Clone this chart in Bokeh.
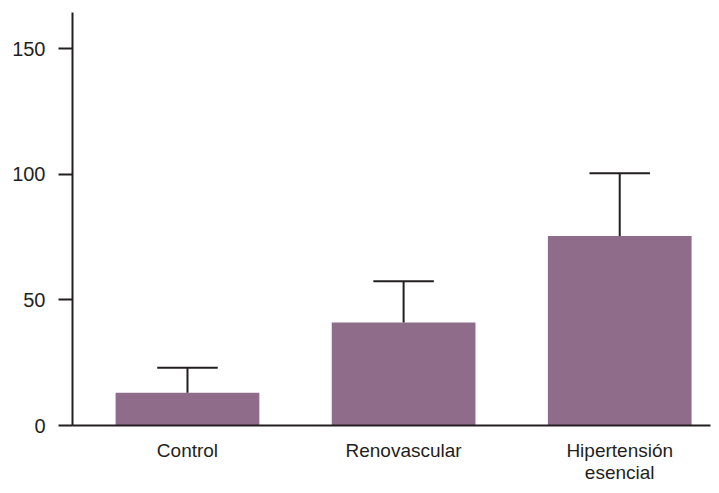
import numpy as np
from bokeh.plotting import figure
from bokeh.models import Range1d, FixedTicker
from bokeh.embed import file_html
from bokeh.resources import INLINE

categories = ["Control", "Renovascular", "Hipertensión\nesencial"]
means = [13, 41, 75.5]
errors = [10, 16.5, 25]
y_ticks = [0, 50, 100, 150]

BAR_COLOR = "#8e6c8a"
INK = "#231f20"
FONT = "Liberation Sans"

x = np.arange(len(categories))
m = np.array(means, dtype=float)
upper = m + np.array(errors, dtype=float)

p = figure(width=711, height=485, output_backend="svg", toolbar_location=None,
           x_range=Range1d(-0.532, 2.42), y_range=Range1d(0, 164.5),
           min_border_left=72, min_border_right=1, min_border_top=12, min_border_bottom=57)
p.outline_line_color = None
p.xgrid.visible = False
p.ygrid.visible = False
p.background_fill_color = "white"
p.border_fill_color = "white"

p.vbar(x=x, top=m, width=0.665, bottom=0, fill_color=BAR_COLOR, line_color=None)
p.segment(x0=x, y0=m, x1=x, y1=upper, line_color=INK, line_width=2)
cap = 0.14
p.segment(x0=x - cap, y0=upper, x1=x + cap, y1=upper, line_color=INK, line_width=2)

# y axis
ya = p.yaxis[0]
ya.ticker = FixedTicker(ticks=y_ticks)
ya.axis_line_color = INK
ya.axis_line_width = 2
ya.major_tick_line_color = INK
ya.major_tick_line_width = 2
ya.major_tick_out = 14
ya.major_tick_in = 0
ya.minor_tick_line_color = None
ya.major_label_standoff = 13
ya.major_label_text_font = FONT
ya.major_label_text_font_size = "20px"
ya.major_label_text_color = INK

# x axis
xa = p.xaxis[0]
xa.ticker = FixedTicker(ticks=list(x))
xa.major_label_overrides = {int(i): c for i, c in zip(x, categories)}
xa.axis_line_color = INK
xa.axis_line_width = 2
xa.major_tick_line_color = None
xa.major_tick_out = 0
xa.major_tick_in = 0
xa.minor_tick_line_color = None
xa.major_label_standoff = 14
xa.major_label_text_font = FONT
xa.major_label_text_font_size = "19px"
xa.major_label_text_color = INK
xa.major_label_text_line_height = 1.05

open("out.html", "w").write(file_html(p, INLINE))
